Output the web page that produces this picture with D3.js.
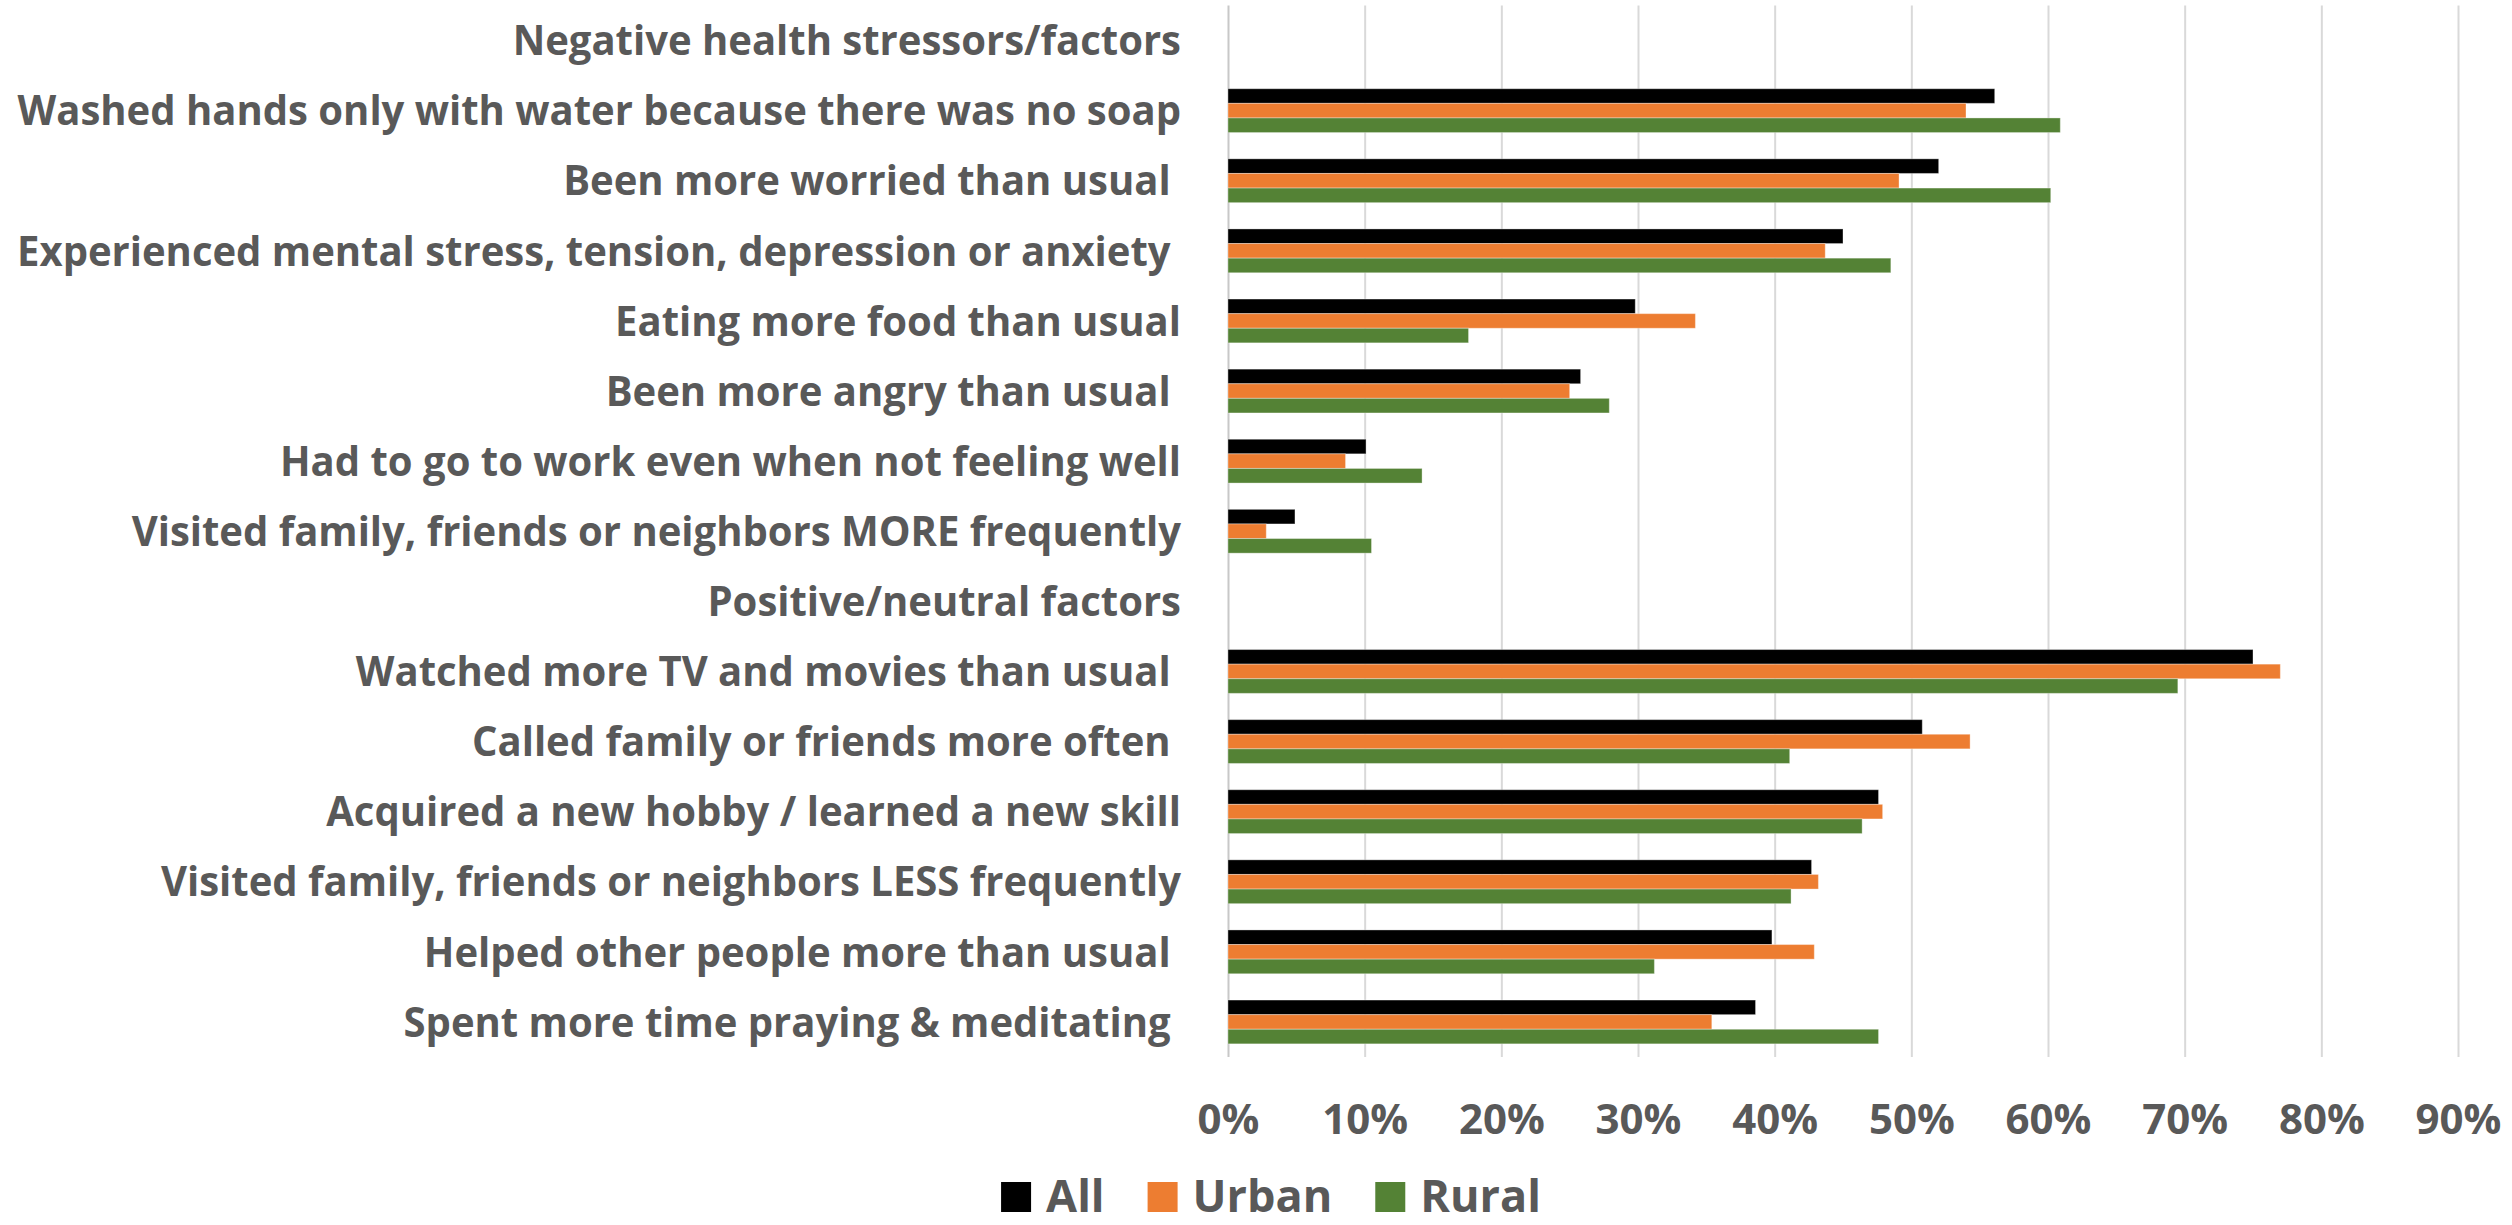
<!DOCTYPE html>
<html><head><meta charset="utf-8">
<script src="https://cdn.jsdelivr.net/npm/d3@7"></script>
<style>
html,body{margin:0;padding:0;background:#fff;}
svg{display:block;}
text{font-family:'Open Sans',sans-serif;font-weight:700;fill:#595959;white-space:pre;}
</style>
</head><body>
<svg id="chart" width="2512" height="1225"></svg>
<script>
const categories = [
  "Negative health stressors/factors",
  "Washed hands only with water because there was no soap",
  "Been more worried than usual ",
  "Experienced mental stress, tension, depression or anxiety ",
  "Eating more food than usual",
  "Been more angry than usual ",
  "Had to go to work even when not feeling well",
  "Visited family, friends or neighbors MORE frequently",
  "Positive/neutral factors",
  "Watched more TV and movies than usual ",
  "Called family or friends more often ",
  "Acquired a new hobby / learned a new skill",
  "Visited family, friends or neighbors LESS frequently",
  "Helped other people more than usual ",
  "Spent more time praying & meditating "
];
const seriesNames = ["All", "Urban", "Rural"];
const allValues   = [null, 0.561, 0.520, 0.450, 0.298, 0.258, 0.101, 0.049, null, 0.750, 0.508, 0.476, 0.427, 0.398, 0.386];
const urbanValues = [null, 0.540, 0.491, 0.437, 0.342, 0.250, 0.086, 0.028, null, 0.770, 0.543, 0.479, 0.432, 0.429, 0.354];
const ruralValues = [null, 0.609, 0.602, 0.485, 0.176, 0.279, 0.142, 0.105, null, 0.695, 0.411, 0.464, 0.412, 0.312, 0.476];
const tickValues = [0, 0.1, 0.2, 0.3, 0.4, 0.5, 0.6, 0.7, 0.8, 0.9];
const seriesColors = ["#000000", "#ED7D31", "#548235"];

const seriesValues = [allValues, urbanValues, ruralValues];
const svg = d3.select("#chart");

const plotLeft = 1228, plotRight = 2458, plotTop = 5.5, plotBottom = 1057;
const x = d3.scaleLinear().domain([0, 0.9]).range([plotLeft, plotRight]);
const y0 = d3.scaleBand().domain(d3.range(categories.length)).range([plotTop, plotBottom]);
const y1 = d3.scaleBand().domain(seriesNames).range([0, y0.bandwidth()]).paddingInner(0).paddingOuter(0.9);

// gridlines + x axis
const xAxis = d3.axisBottom(x).tickValues(tickValues).tickFormat(d3.format(".0%"))
  .tickSize(-(plotBottom - plotTop)).tickPadding(0);
const gx = svg.append("g").attr("transform", `translate(0,${plotBottom})`).call(xAxis);
gx.select(".domain").remove();
gx.selectAll(".tick line").attr("stroke", d => d === 0 ? "#c8c8c8" : "#d9d9d9").attr("stroke-width", 2);
gx.selectAll(".tick text").attr("y", 77).attr("dy", null)
  .style("font-size", "42px").attr("fill", "#595959");

// bars
const rows = svg.append("g").selectAll("g").data(categories).join("g")
  .attr("transform", (d, i) => `translate(0,${y0(i)})`);
rows.selectAll("rect")
  .data((d, i) => seriesNames.map((s, k) => ({ s, k, v: seriesValues[k][i] })).filter(e => e.v !== null))
  .join("rect")
  .attr("x", x(0))
  .attr("y", e => y1(e.s))
  .attr("width", e => x(e.v) - x(0))
  .attr("height", y1.bandwidth())
  .attr("fill", e => seriesColors[e.k])
  .attr("stroke", "#ffffff").attr("stroke-opacity", 0.35).attr("stroke-width", 1);

// category labels (condensed horizontally to mimic the narrow original face)
const labelRight = 1181, longestTarget = 1164;
const labels = svg.append("g");
const lt = labels.selectAll("text").data(categories).join("text")
  .attr("x", labelRight)
  .attr("y", (d, i) => y0(i) + y0.bandwidth() / 2)
  .attr("dy", "0.36em")
  .attr("text-anchor", "end")
  .style("font-size", "41px")
  .text(d => d);
const wLong = lt.nodes()[1].getComputedTextLength();
const sx = longestTarget / wLong;
labels.attr("transform", `translate(${labelRight},0) scale(${sx},1) translate(${-labelRight},0)`);

// legend
const legend = svg.append("g");
const legendFont = 45, sq = 30, gapText = 15, gapItem = 43;
let cx = 0;
seriesNames.forEach((s, k) => {
  const g = legend.append("g").attr("transform", `translate(${cx},0)`);
  g.append("rect").attr("x", 0).attr("y", 1182).attr("width", sq).attr("height", sq).attr("fill", seriesColors[k]);
  const t = g.append("text").attr("x", sq + gapText).attr("y", 1212).style("font-size", legendFont + "px").text(s);
  const w = t.node().getComputedTextLength();
  cx += sq + gapText + w + gapItem;
});
const legendWidth = cx - gapItem;
legend.attr("transform", `translate(${1271 - legendWidth / 2},0)`);
</script>
</body></html>
